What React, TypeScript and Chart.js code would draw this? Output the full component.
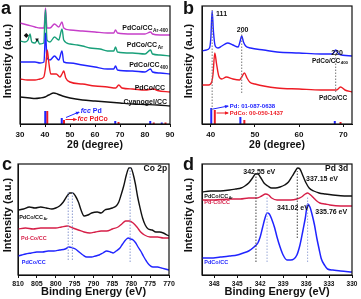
import React, { useEffect, useRef } from "react";
import { Chart, registerables } from "chart.js";

Chart.register(...registerables);

type Pt = [number, number];

// ---------- Panel a : XRD (2θ, offset intensity) ----------
const aTicks = [30, 40, 50, 60, 70, 80, 90];
const aCyanogel: Pt[] = [[30, 27], [32, 26.5], [34, 26], [36, 25.5], [38, 26], [40, 27], [41.5, 29], [43.5, 31], [45, 30], [47, 28], [50, 26], [55, 24], [60, 23], [65, 22], [70, 21], [75, 20], [80, 19.5], [85, 19], [90, 18]];
const aPdCo: Pt[] = [[30, 45], [33, 44], [36, 44], [38, 45], [39.5, 47], [40.3, 58], [40.9, 74], [41.5, 62], [42.3, 50], [43.5, 50], [44.5, 50], [46, 47], [46.8, 50], [47.5, 53], [48.3, 46], [50, 42], [55, 40], [60, 38], [65, 37], [68.3, 36], [69.5, 39], [70.8, 36], [75, 35], [80, 34], [83.5, 35], [85, 33.5], [90, 32]];
const aPdCo400: Pt[] = [[30, 62], [33, 62], [36, 62], [38, 61], [39.6, 62], [40.2, 91], [40.8, 66], [42, 64], [43.8, 68], [45.5, 64], [46.8, 73], [47.5, 62], [50, 61], [55, 59], [60, 57], [65, 55], [67.5, 55], [68.2, 58], [69, 54], [75, 53], [80, 52], [82.2, 55], [83, 52], [86, 51], [90, 50]];
const aPdCoAr: Pt[] = [[30, 83], [32, 82], [33.2, 84], [34, 90], [34.7, 82], [36, 81], [37, 84], [37.8, 80], [39.5, 81], [40.2, 114], [40.8, 84], [42, 82], [43.8, 87], [45.5, 84], [46.8, 95], [47.5, 84], [50, 80], [53, 79], [55, 78], [58, 76], [62, 75], [65, 73], [67.5, 73], [68.2, 77], [69, 72], [75, 71], [80, 70], [82.2, 74], [83, 70], [86, 69], [90, 68]];
const aPdCoAr400: Pt[] = [[30, 101], [33, 99], [36, 97], [38, 96], [39.6, 96], [40.2, 116], [40.8, 96], [42, 96], [43.8, 100], [45.5, 97], [46.8, 102], [47.5, 96], [50, 94], [55, 93], [60, 92], [65, 91], [67.5, 91], [68.2, 94], [69, 91], [75, 90], [80, 90], [82.2, 92], [83, 90], [86, 89], [90, 89]];
const aRefPd: Pt[] = [[40.1, 13], [46.7, 6], [68.1, 3], [82.1, 3], [86.7, 1.5]];
const aRefPdCo: Pt[] = [[40.9, 13], [47.6, 4], [69.4, 2], [83.5, 1.5], [88.2, 1.5]];

// ---------- Panel b : XRD zoom ----------
const bTicks = [40, 50, 60, 70];
const bPdCo400: Pt[] = [[38, 73], [39, 74], [39.7, 76], [40.0, 86], [40.3, 113], [40.6, 92], [41.0, 78], [41.6, 76], [42.5, 78], [43.8, 81], [45, 79], [46.2, 77], [46.6, 82], [47.0, 88], [47.4, 82], [47.9, 78], [49, 76], [52, 74], [55, 72], [60, 71], [65, 70], [67.6, 70], [68.3, 74], [69, 70], [72, 68]];
const bPdCo: Pt[] = [[38, 39], [39.5, 39], [40.2, 42], [40.5, 50], [40.9, 71], [41.3, 60], [41.8, 48], [42.5, 45], [43.5, 47], [45, 45], [46.5, 44], [47.0, 47], [47.6, 51], [48.2, 46], [48.8, 42], [50, 40], [55, 36], [60, 35], [65, 34], [68.5, 34], [69.4, 37], [70.4, 34], [72, 32]];
const bRefPd: Pt[] = [[40.1, 16], [46.7, 7], [68.1, 3]];
const bRefPdCo: Pt[] = [[40.9, 14], [47.6, 4], [69.4, 2]];
const bGuides: Pt[][] = [[[40.3, 14], [40.3, 114]], [[47.0, 31], [47.0, 92]], [[68.3, 32], [68.3, 70]]];

// ---------- Panel c : Co 2p XPS ----------
const cTicks = [810, 805, 800, 795, 790, 785, 780, 775, 770];
const cPdCoAr: Pt[] = [[810, 65], [808.5, 66], [807, 68], [805.5, 67], [804, 68], [802.5, 67], [801, 66], [800, 67], [799, 69], [798, 73], [797, 79], [796.3, 82], [795.5, 82], [794.8, 79], [794, 73], [793.3, 65], [792.5, 59], [791.5, 60], [790.5, 62], [789, 63], [788, 62], [787, 65], [786, 66], [785, 67], [784, 69], [783.3, 73], [782.7, 80], [782, 89], [781.3, 100], [780.6, 107], [780.1, 107], [779.5, 101], [778.9, 91], [778.3, 78], [777.6, 66], [777, 57], [776.3, 50], [775.5, 46], [774.5, 45], [773.5, 43], [772.5, 43], [771.5, 42], [770.5, 40], [770, 39]];
const cPdDashCo: Pt[] = [[810, 46], [808, 47], [806, 46], [804, 47], [802, 47], [800, 47], [798.5, 48], [797, 49], [795.5, 47], [794, 45], [792.5, 43], [791, 42], [789.5, 43], [788, 44], [786.5, 44], [785, 46], [783.5, 48], [782.5, 51], [781.5, 54], [780.5, 54], [779.5, 52], [778.5, 48], [777.5, 43], [776.5, 40], [775, 38], [773, 38], [771.5, 37], [770, 37]];
const cPdCo: Pt[] = [[810, 19], [809, 20], [808, 21], [806.5, 22], [805, 23], [803.5, 23], [802, 24], [800.5, 24], [799, 25], [797.5, 26], [796.5, 28], [795.5, 27], [794.8, 26], [793.8, 23], [792.8, 20], [791.8, 18], [790.5, 18], [789.5, 19], [788.5, 20], [787.5, 22], [786.5, 24], [785.5, 23], [784.8, 22], [784, 24], [783, 27], [782.3, 31], [781.5, 35], [780.8, 37], [780.2, 36], [779.5, 35], [778.8, 32], [778.2, 28], [777.5, 24], [776.8, 19], [776, 14], [775.2, 10], [774.3, 8], [773, 8], [772, 7], [771, 6], [770, 5]];
const cGuides: Pt[][] = [[[796.7, 15], [796.7, 83]], [[795.6, 15], [795.6, 83]], [[780.3, 13], [780.3, 107]]];

// ---------- Panel d : Pd 3d XPS ----------
const dTicks = [348, 345, 342, 339, 336, 333, 330];
const dPdCoAr: Pt[] = [[349.6, 83], [348.5, 84], [347.2, 84], [346, 85], [345.2, 86], [344.5, 87], [344, 89], [343.5, 92], [343, 97], [342.6, 101], [342.3, 101], [341.9, 97], [341.5, 92], [341, 89], [340.5, 87], [340, 87], [339.4, 88], [338.8, 90], [338.3, 93], [337.8, 99], [337.4, 104], [337.1, 107], [336.8, 106], [336.4, 99], [336, 92], [335.6, 87], [335, 84], [334.3, 82], [333.5, 81], [332.5, 80], [331, 79], [330, 79]];
const dPdDashCo: Pt[] = [[349.6, 75], [348, 75], [346, 76], [344.6, 76], [343.5, 77], [342.4, 77], [341.8, 79], [341.3, 81], [340.9, 80], [340.5, 77], [339.8, 75], [339, 75], [338, 75], [337.2, 76], [336.6, 78], [336.1, 81], [335.8, 82], [335.4, 80], [335, 77], [334.6, 74], [334.2, 72], [333.5, 71], [332.9, 70], [331.5, 69], [330, 69]];
const dPdCo: Pt[] = [[349.6, 17], [348.5, 17], [347.2, 18], [346, 19], [345, 20], [344.2, 22], [343.5, 24], [342.8, 28], [342.3, 32], [342, 38], [341.7, 47], [341.4, 56], [341.1, 62], [340.8, 61], [340.5, 56], [340.1, 47], [339.8, 38], [339.4, 28], [339, 20], [338.5, 15], [338, 15], [337.6, 16], [337.2, 20], [336.8, 30], [336.4, 45], [336.1, 57], [335.8, 71], [335.5, 68], [335.2, 60], [334.9, 50], [334.6, 37], [334.3, 26], [334, 16], [333.6, 10], [333.2, 6], [332.5, 5], [331.5, 4], [330, 3]];
const dGuidesDark: Pt[][] = [[[342.55, 13], [342.55, 100]], [[337.15, 37], [337.15, 104]]];
const dGuidesLight: Pt[][] = [[[341.1, 13], [341.1, 78]], [[335.8, 13], [335.8, 78]]];

// ---------- styling ----------
const FONT = '"Liberation Sans", Arial, Helvetica, sans-serif';
const INK = "#111";
const RED = "#ee1c25";
const BLUE = "#2024ff";
const GREEN = "#19a07a";
const MAGENTA = "#c63fc9";
const CRIMSON = "#d61f48";
const LW = 1.4;

type Txt = { text: string; x: number; y: number; color?: string; size: number; align?: "left" | "right" | "center"; sub?: string; pre?: string };
type Arrow = { from: Pt; to: Pt; color: string };
type CTxt = { text: string; cx: number; cy: number; size: number; rotate?: boolean };

function drawText(ctx: CanvasRenderingContext2D, t: Txt, px: number, py: number) {
  const s = t.size;
  const fMain = `bold ${s}px ${FONT}`;
  const fPre = `italic bold ${s}px ${FONT}`;
  const fSub = `bold ${(s * 0.68).toFixed(1)}px ${FONT}`;
  let wPre = 0, wSub = 0;
  if (t.pre) { ctx.font = fPre; wPre = ctx.measureText(t.pre).width; }
  ctx.font = fMain;
  const wMain = ctx.measureText(t.text).width;
  if (t.sub) { ctx.font = fSub; wSub = ctx.measureText(t.sub).width + 0.5; }
  const total = wPre + wMain + wSub;
  let x = t.align === "right" ? px - total : t.align === "center" ? px - total / 2 : px;
  ctx.fillStyle = t.color || INK;
  ctx.textAlign = "left";
  ctx.textBaseline = "middle";
  if (t.pre) { ctx.font = fPre; ctx.fillText(t.pre, x, py); x += wPre; }
  ctx.font = fMain; ctx.fillText(t.text, x, py); x += wMain;
  if (t.sub) { ctx.font = fSub; ctx.fillText(t.sub, x + 0.5, py + s * 0.35); }
}

const decorPlugin = {
  id: "decor",
  afterDraw(chart: any, _a: any, opts: any) {
    const ctx = chart.ctx as CanvasRenderingContext2D;
    const { left, top, right, bottom } = chart.chartArea;
    const xs = chart.scales.x, ys = chart.scales.y;
    ctx.save();
    ctx.strokeStyle = INK;
    ctx.lineWidth = 1.2;
    ctx.strokeRect(left, top, right - left, bottom - top);
    for (const a of (opts.arrows || []) as Arrow[]) {
      const x0 = xs.getPixelForValue(a.from[0]), y0 = ys.getPixelForValue(a.from[1]);
      const x1 = xs.getPixelForValue(a.to[0]), y1 = ys.getPixelForValue(a.to[1]);
      const ang = Math.atan2(y1 - y0, x1 - x0);
      ctx.strokeStyle = a.color; ctx.fillStyle = a.color; ctx.lineWidth = 1;
      ctx.beginPath(); ctx.moveTo(x0, y0); ctx.lineTo(x1, y1); ctx.stroke();
      ctx.beginPath();
      ctx.moveTo(x1 + 1, y1);
      ctx.lineTo(x1 - 3.5 * Math.cos(ang - 0.5), y1 - 3.5 * Math.sin(ang - 0.5));
      ctx.lineTo(x1 - 3.5 * Math.cos(ang + 0.5), y1 - 3.5 * Math.sin(ang + 0.5));
      ctx.closePath(); ctx.fill();
    }
    for (const t of (opts.texts || []) as Txt[]) {
      drawText(ctx, t, xs.getPixelForValue(t.x), ys.getPixelForValue(t.y));
    }
    for (const c of (opts.canvasTexts || []) as CTxt[]) {
      ctx.fillStyle = INK;
      ctx.font = `bold ${c.size}px ${FONT}`;
      if (c.rotate) {
        ctx.save();
        ctx.translate(c.cx, c.cy);
        ctx.rotate(-Math.PI / 2);
        ctx.textAlign = "center"; ctx.textBaseline = "middle";
        ctx.fillText(c.text, 0, 0);
        ctx.restore();
      } else {
        ctx.textAlign = "left"; ctx.textBaseline = "alphabetic";
        ctx.fillText(c.text, c.cx, c.cy);
      }
    }
    ctx.restore();
  },
};

const line = (pts: Pt[], color: string, width = LW) => ({
  data: pts.map(([x, y]) => ({ x, y })),
  borderColor: color, borderWidth: width, pointRadius: 0, fill: false,
  cubicInterpolationMode: "monotone",
});
const sticks = (pts: Pt[], color: string) => ({
  data: pts.flatMap(([x, h]) => [{ x, y: 0 }, { x, y: h }, { x, y: null }]),
  borderColor: color, borderWidth: 2, pointRadius: 0, fill: false, tension: 0,
});
const guides = (segs: Pt[][], color: string) => ({
  data: segs.flatMap((s) => [{ x: s[0][0], y: s[0][1] }, { x: s[1][0], y: s[1][1] }, { x: s[1][0], y: null }]),
  borderColor: color, borderWidth: 1, borderDash: [1.5, 1.5], pointRadius: 0, fill: false, tension: 0,
});

type PanelDef = {
  left: number; top: number; w: number; h: number;
  padding: { left: number; top: number; right: number; bottom: number };
  yWidth: number; xHeight: number;
  xMin: number; xMax: number; reverse: boolean; ticks: number[]; tickSize: number; tickPad: number;
  xTitle: string; xTitleSize: number; xTitlePad: number; yMax: number;
  datasets: any[]; texts: Txt[]; arrows: Arrow[]; canvasTexts: CTxt[];
};

const panels: PanelDef[] = [
  {
    left: 0, top: 0, w: 180, h: 153,
    padding: { left: 0, top: 6, right: 10, bottom: 0 }, yWidth: 20, xHeight: 29,
    xMin: 30, xMax: 90, reverse: false, ticks: aTicks, tickSize: 8, tickPad: 3,
    xTitle: "2θ (degree)", xTitleSize: 10.5, xTitlePad: 2, yMax: 118,
    datasets: [
      line(aCyanogel, INK), line(aPdCo, RED), line(aPdCo400, BLUE), line(aPdCoAr, GREEN), line(aPdCoAr400, MAGENTA),
      sticks(aRefPd, BLUE), sticks(aRefPdCo, RED),
    ],
    texts: [
      { text: "PdCo/CC", sub: "Ar-400", x: 89.2, y: 96, size: 7, align: "right" },
      { text: "PdCo/CC", sub: "Ar", x: 87.2, y: 79, size: 7, align: "right" },
      { text: "PdCo/CC", sub: "400", x: 89.2, y: 59, size: 7, align: "right" },
      { text: "PdCo/CC", x: 88, y: 36, size: 7, align: "right" },
      { text: "Cyanogel/CC", x: 88.8, y: 22, size: 7, align: "right" },
      { text: "◆", x: 32.4, y: 89, size: 6, align: "center" },
      { text: "▼", x: 36.8, y: 84, size: 6, align: "center" },
      { pre: "fcc", text: " Pd", x: 54.3, y: 12.5, size: 7, color: BLUE },
      { pre: "fcc", text: " PdCo", x: 53, y: 4.5, size: 7, color: RED },
    ],
    arrows: [
      { from: [48.4, 6.5], to: [53.6, 12], color: BLUE },
      { from: [48.2, 4.5], to: [52.5, 4.5], color: RED },
    ],
    canvasTexts: [
      { text: "a", cx: 1, cy: 14, size: 18 },
      { text: "Intensity (a.u.)", cx: 7.5, cy: 61, size: 11, rotate: true },
    ],
  },
  {
    left: 180, top: 0, w: 181, h: 153,
    padding: { left: 0, top: 6, right: 9, bottom: 0 }, yWidth: 22, xHeight: 29,
    xMin: 38, xMax: 72, reverse: false, ticks: bTicks, tickSize: 8, tickPad: 3,
    xTitle: "2θ (degree)", xTitleSize: 10.5, xTitlePad: 2, yMax: 118,
    datasets: [
      guides(bGuides, "#777"),
      line(bPdCo400, BLUE), line(bPdCo, RED),
      sticks(bRefPd, BLUE), sticks(bRefPdCo, RED),
    ],
    texts: [
      { text: "111", x: 41.2, y: 110, size: 7 },
      { text: "200", x: 47.2, y: 94, size: 7, align: "center" },
      { text: "220", x: 68.6, y: 71, size: 7, align: "center" },
      { text: "PdCo/CC", sub: "400", x: 71.1, y: 63, size: 6.5, align: "right" },
      { text: "PdCo/CC", x: 70.9, y: 26, size: 6.5, align: "right" },
      { text: "Pd: 01-087-0638", x: 44.3, y: 18, size: 6, color: BLUE },
      { text: "PdCo: 00-050-1437", x: 44.3, y: 11, size: 6, color: RED },
    ],
    arrows: [
      { from: [40.5, 15], to: [43.9, 18], color: BLUE },
      { from: [41.3, 11], to: [43.9, 11], color: RED },
    ],
    canvasTexts: [
      { text: "b", cx: 3, cy: 14, size: 18 },
      { text: "Intensity (a.u.)", cx: 9, cy: 61, size: 11, rotate: true },
    ],
  },
  {
    left: 0, top: 152, w: 180, h: 147,
    padding: { left: 0, top: 12, right: 11, bottom: 0 }, yWidth: 18, xHeight: 24,
    xMin: 770, xMax: 810, reverse: true, ticks: cTicks, tickSize: 7, tickPad: 2,
    xTitle: "Binding Energy (eV)", xTitleSize: 11, xTitlePad: 0, yMax: 111,
    datasets: [
      guides(cGuides, "#8a9ad0"),
      line(cPdCoAr, INK), line(cPdDashCo, CRIMSON), line(cPdCo, BLUE),
    ],
    texts: [
      { text: "Co 2p", x: 770.5, y: 106, size: 8.5, align: "right" },
      { text: "PdCo/CC", sub: "Ar", x: 809.7, y: 58, size: 5.5 },
      { text: "Pd-Co/CC", x: 809.2, y: 37, size: 5.5, color: CRIMSON },
      { text: "PdCo/CC", x: 809, y: 13, size: 5.5, color: BLUE },
    ],
    arrows: [],
    canvasTexts: [
      { text: "c", cx: 2, cy: 18, size: 18 },
      { text: "Intensity (a.u.)", cx: 7.5, cy: 63, size: 11, rotate: true },
    ],
  },
  {
    left: 180, top: 152, w: 181, h: 147,
    padding: { left: 0, top: 12, right: 9, bottom: 0 }, yWidth: 22, xHeight: 24,
    xMin: 330, xMax: 349.6, reverse: true, ticks: dTicks, tickSize: 6.5, tickPad: 2,
    xTitle: "Binding Energy (eV)", xTitleSize: 11, xTitlePad: 0, yMax: 111,
    datasets: [
      guides(dGuidesDark, "#444"), guides(dGuidesLight, "#9aa8d8"),
      line(dPdCoAr, INK), line(dPdDashCo, CRIMSON), line(dPdCo, BLUE, 1.5),
    ],
    texts: [
      { text: "Pd 3d", x: 330.5, y: 106, size: 8.5, align: "right" },
      { text: "342.55 eV", x: 344.2, y: 103, size: 7 },
      { text: "337.15 eV", x: 336, y: 96, size: 7 },
      { text: "341.02 eV", x: 339.8, y: 67, size: 7 },
      { text: "335.76 eV", x: 334.8, y: 63, size: 7 },
      { text: "PdCo/CC", sub: "Ar", x: 349.3, y: 79, size: 5.5 },
      { text: "Pd-Co/CC", x: 349.3, y: 73, size: 5.5, color: CRIMSON },
      { text: "PdCo/CC", x: 349.3, y: 13, size: 5.5, color: BLUE },
    ],
    arrows: [],
    canvasTexts: [
      { text: "d", cx: 3, cy: 18, size: 18 },
      { text: "Intensity (a.u.)", cx: 8.5, cy: 63, size: 11, rotate: true },
    ],
  },
];

function buildConfig(p: PanelDef): any {
  return {
    type: "line",
    data: { datasets: p.datasets },
    options: {
      animation: false,
      responsive: false,
      devicePixelRatio: 1,
      layout: { padding: p.padding },
      plugins: {
        legend: { display: false },
        tooltip: { enabled: false },
        decor: { texts: p.texts, arrows: p.arrows, canvasTexts: p.canvasTexts },
      },
      scales: {
        x: {
          type: "linear", min: p.xMin, max: p.xMax, reverse: p.reverse,
          afterFit: (s: any) => { s.height = p.xHeight; },
          afterBuildTicks: (s: any) => { s.ticks = p.ticks.map((v) => ({ value: v })); },
          ticks: { color: INK, font: { family: FONT, size: p.tickSize, weight: "bold" }, padding: p.tickPad, maxRotation: 0, autoSkip: false, callback: (v: any) => String(v) },
          grid: { display: true, drawOnChartArea: false, drawTicks: true, tickLength: 3, color: INK },
          border: { display: true, color: INK, width: 1 },
          title: { display: true, text: p.xTitle, color: INK, font: { family: FONT, size: p.xTitleSize, weight: "bold" }, padding: { top: 0, bottom: p.xTitlePad } },
        },
        y: {
          type: "linear", min: 0, max: p.yMax,
          afterFit: (s: any) => { s.width = p.yWidth; },
          ticks: { display: false },
          grid: { display: false },
          border: { display: true, color: INK, width: 1 },
        },
      },
    },
    plugins: [decorPlugin],
  };
}

function Panel({ p }: { p: PanelDef }) {
  const ref = useRef<HTMLCanvasElement>(null);
  useEffect(() => {
    const chart = new Chart(ref.current as HTMLCanvasElement, buildConfig(p));
    return () => chart.destroy();
  }, [p]);
  return (
    <canvas
      ref={ref}
      width={p.w}
      height={p.h}
      style={{ position: "absolute", left: p.left, top: p.top, width: p.w, height: p.h }}
    />
  );
}

export default function App() {
  return (
    <div style={{ position: "fixed", left: 0, top: 0, width: 361, height: 299, background: "#fff", overflow: "hidden" }}>
      {panels.map((p, i) => (
        <Panel key={i} p={p} />
      ))}
    </div>
  );
}
